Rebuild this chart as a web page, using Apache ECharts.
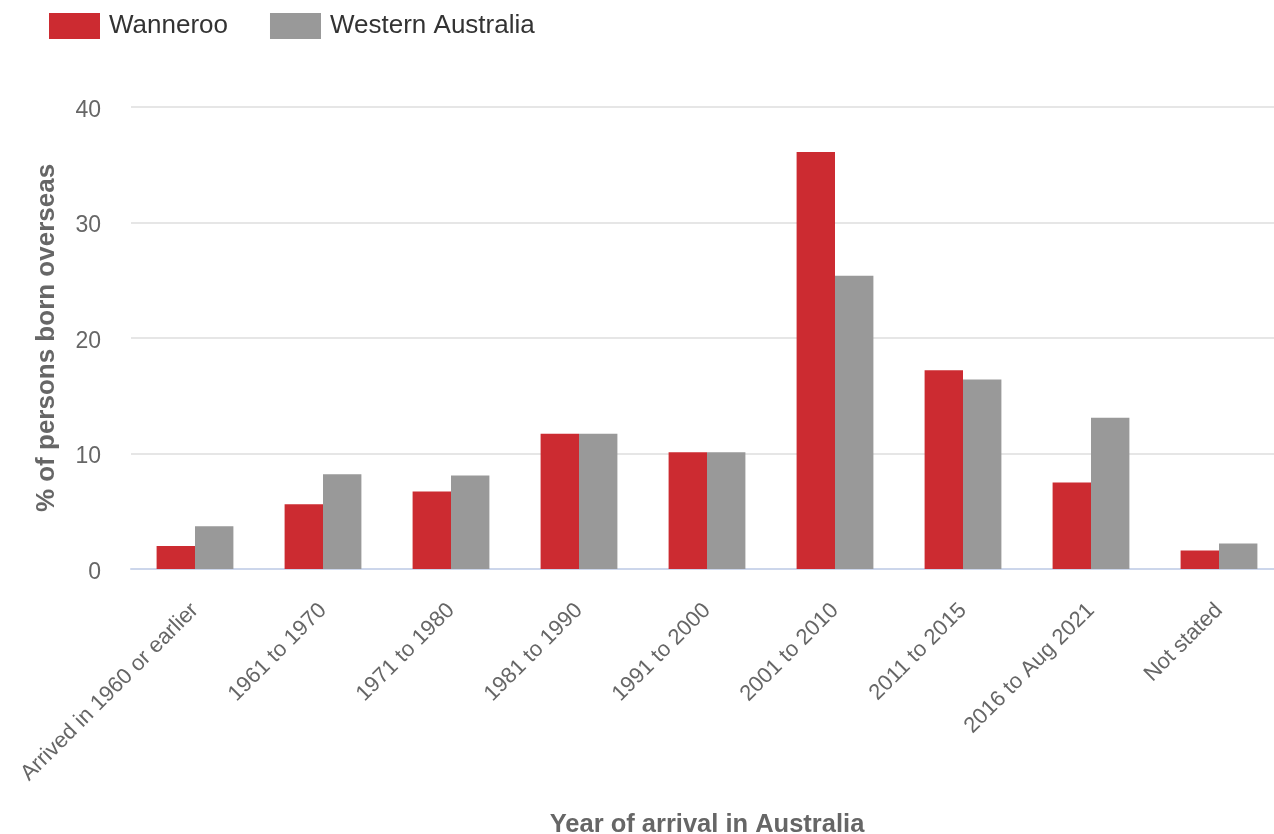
<!DOCTYPE html>
<html>
<head>
<meta charset="utf-8">
<script src="https://cdn.jsdelivr.net/npm/echarts@6/dist/echarts.min.js"></script>
<style>
  html, body { margin: 0; padding: 0; background: #fff; }
  #chart { width: 1274px; height: 834px; }
</style>
</head>
<body>
<div id="chart"></div>
<script>
  // year of arrival categories
  let categories = ['Arrived in 1960 or earlier', '1961 to 1970', '1971 to 1980', '1981 to 1990',
    '1991 to 2000', '2001 to 2010', '2011 to 2015', '2016 to Aug 2021', 'Not stated'];
  let wanneroo = [2.0, 5.6, 6.7, 11.7, 10.1, 36.1, 17.2, 7.5, 1.6];
  let westernAustralia = [3.7, 8.2, 8.1, 11.7, 10.1, 25.4, 16.4, 13.1, 2.2];
  let yTicks = { min: 0, max: 40, interval: 10 };

  let font = 'Arial, "Liberation Sans", sans-serif';

  let option = {
    animation: false,
    textStyle: { fontFamily: font },
    legend: {
      left: 44,
      top: 8,
      itemWidth: 51,
      itemHeight: 26,
      itemGap: 42,
      icon: 'rect',
      textStyle: { fontSize: 26, color: '#333', fontFamily: font, padding: [0, 0, 0, 4] },
      data: ['Wanneroo', 'Western Australia']
    },
    grid: {
      left: 131,
      top: 107,
      width: 1152,
      bottom: 265,
      outerBoundsMode: 'none'
    },
    xAxis: {
      type: 'category',
      data: categories,
      name: 'Year of arrival in Australia',
      nameLocation: 'middle',
      nameGap: 243,
      nameTextStyle: { fontSize: 25.5, fontWeight: 'bold', color: '#666', fontFamily: font },
      axisLine: { lineStyle: { color: '#ccd6eb', width: 2 } },
      axisTick: { alignWithLabel: true, length: 24, lineStyle: { color: '#ccd6eb', width: 2 } },
      axisLabel: { rotate: 45, fontSize: 22, color: '#666', margin: 38, interval: 0, fontFamily: font }
    },
    yAxis: {
      type: 'value',
      min: yTicks.min,
      max: yTicks.max,
      interval: yTicks.interval,
      name: '% of persons born overseas',
      nameLocation: 'middle',
      nameGap: 71,
      nameTextStyle: { fontSize: 26, fontWeight: 'bold', color: '#666', fontFamily: font },
      axisLabel: {
        margin: 30,
        formatter: '{v|{value}}',
        rich: { v: { fontSize: 23, color: '#666', fontFamily: font, padding: [7, 0, 0, 0] } }
      },
      splitLine: { lineStyle: { color: '#e6e6e6', width: 2 } },
      axisLine: { show: false },
      axisTick: { show: false }
    },
    series: [
      {
        name: 'Wanneroo',
        type: 'bar',
        data: wanneroo,
        barWidth: '30%',
        barGap: '0%',
        itemStyle: { color: '#cc2b31' }
      },
      {
        name: 'Western Australia',
        type: 'bar',
        data: westernAustralia,
        barWidth: '30%',
        itemStyle: { color: '#999999' }
      }
    ]
  };

  echarts.init(document.getElementById('chart')).setOption(option);
</script>
</body>
</html>
